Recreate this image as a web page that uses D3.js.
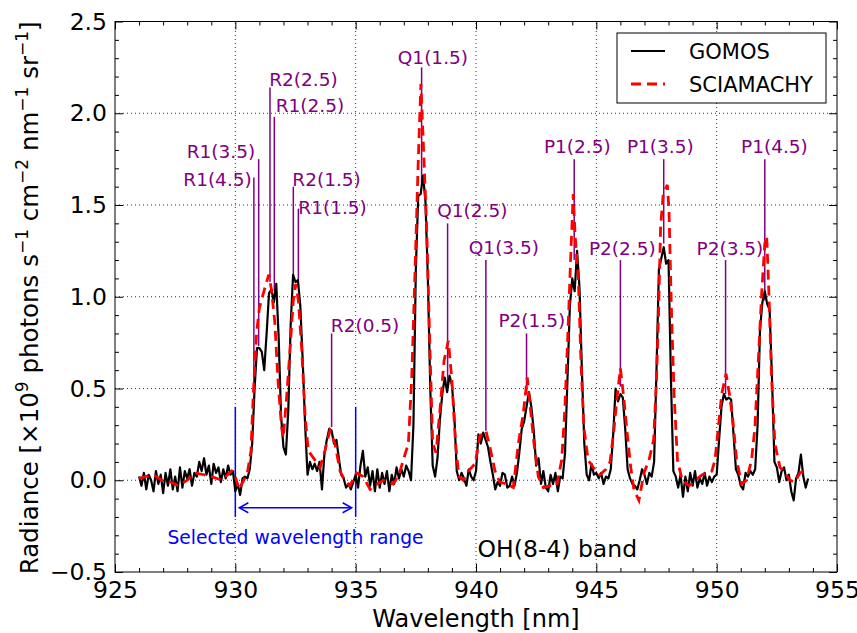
<!DOCTYPE html>
<html><head><meta charset="utf-8">
<script src="https://cdn.jsdelivr.net/npm/d3@7"></script>
<style>
body{margin:0;background:#fff}
svg{display:block}
text{font-family:"DejaVu Sans",sans-serif}
</style>
</head><body>
<svg id="c" width="857" height="633"></svg>
<script>
// ---------- DATA ----------
const xTicks = [925, 930, 935, 940, 945, 950, 955];
const yTicks = [-0.5, 0.0, 0.5, 1.0, 1.5, 2.0, 2.5];

// GOMOS spectrum, sampled every 0.1 nm from 926.0 nm to 953.8 nm
const gomosStart = 926.0, gomosStep = 0.1;
const gomosValues = [
  0.02,-0.03,0.04,-0.05,0.03,0.00,-0.06,0.05,-0.02,0.03,      // 926
  -0.07,0.04,-0.03,0.06,-0.05,0.02,-0.06,0.07,-0.04,0.05,     // 927
  0.01,0.06,-0.03,0.04,0.02,0.10,0.05,0.12,0.03,0.08,         // 928
  -0.02,0.09,0.04,0.07,-0.01,0.06,0.01,0.08,0.03,0.05,        // 929
  -0.06,-0.02,-0.08,0.01,0.02,0.01,0.06,0.20,0.50,0.72,       // 930
  0.72,0.70,0.60,0.80,1.02,1.04,0.97,1.07,0.78,0.35,          // 931
  0.18,0.14,0.38,0.85,1.12,1.08,1.09,0.95,0.65,0.30,          // 932
  0.03,0.10,0.06,0.09,0.05,0.10,-0.05,0.14,0.22,0.28,         // 933
  0.27,0.20,0.22,0.12,0.03,0.01,-0.04,-0.02,-0.05,-0.01,      // 934
  0.03,-0.04,0.08,0.16,0.02,0.07,-0.03,0.05,-0.06,0.06,       // 935
  -0.04,0.04,-0.02,0.05,-0.06,0.03,-0.02,0.07,0.01,0.06,      // 936
  0.02,0.08,0.05,0.00,0.30,1.15,1.55,1.56,1.66,1.52,          // 937
  1.10,0.50,0.08,0.02,0.12,0.33,0.47,0.56,0.48,0.57,          // 938
  0.52,0.35,0.05,0.00,0.04,0.01,-0.03,0.06,0.02,0.00,         // 939
  0.05,0.25,0.20,0.26,0.22,0.18,0.10,0.03,-0.05,-0.01,        // 940
  -0.03,0.04,0.03,-0.04,-0.03,0.02,-0.03,0.04,0.15,0.28,      // 941
  0.32,0.40,0.48,0.40,0.27,0.08,0.12,-0.02,0.05,-0.04,        // 942
  -0.06,0.03,-0.02,0.04,-0.06,0.02,0.01,0.15,0.55,0.95,       // 943
  1.10,1.03,1.25,1.05,0.60,0.20,0.03,0.00,0.09,0.03,          // 944
  0.04,0.01,0.04,-0.02,0.02,0.01,0.06,0.25,0.50,0.43,         // 945
  0.47,0.45,0.28,0.06,0.01,-0.02,-0.03,-0.05,0.00,0.06,       // 946
  0.03,-0.02,0.04,0.02,0.10,0.60,1.15,1.21,1.27,1.18,         // 947
  1.20,0.55,0.05,0.02,-0.04,0.03,-0.09,0.02,-0.06,0.04,       // 948
  -0.03,0.05,-0.04,0.01,-0.02,0.04,-0.03,0.02,-0.01,0.02,     // 949
  0.03,0.22,0.40,0.47,0.44,0.45,0.44,0.25,0.06,0.03,          // 950
  -0.03,-0.05,0.04,0.02,0.05,0.03,0.06,0.30,0.82,0.97,        // 951
  1.03,0.96,0.93,0.55,0.10,0.07,-0.01,0.05,0.07,0.00,         // 952
  0.03,-0.06,-0.11,0.01,0.04,0.14,0.02,-0.04,0.01             // 953
];

// SCIAMACHY spectrum (wavelength, radiance)
const sciaWl = [926.0,926.25,926.6,926.94,927.3,927.63,928.0,928.32,928.7,929.02,929.43,929.85,930.0,930.15,930.35,930.5,930.65,930.74,930.88,931.0,931.23,931.39,931.5,931.64,931.78,931.92,931.99,932.13,932.27,932.41,932.51,932.62,932.76,932.9,933.03,933.31,933.52,933.72,933.93,934.14,934.35,934.55,934.76,935.04,935.31,935.6,935.9,936.15,936.56,936.8,936.98,937.19,937.33,937.46,937.6,937.71,937.81,937.95,938.06,938.2,938.34,938.5,938.67,938.85,938.99,939.15,939.29,939.47,939.68,939.96,940.16,940.41,940.58,940.79,940.99,941.27,941.55,941.76,941.96,942.13,942.27,942.41,942.59,942.8,943.07,943.35,943.56,943.69,943.83,943.93,944.04,944.12,944.25,944.36,944.48,944.66,944.87,945.15,945.4,945.57,945.72,945.86,946.0,946.14,946.28,946.42,946.56,946.77,946.98,947.19,947.38,947.5,947.58,947.67,947.78,947.95,948.02,948.12,948.23,948.37,948.57,948.85,949.12,949.4,949.6,949.8,949.93,950.07,950.21,950.39,950.53,950.67,950.83,951.04,951.24,951.45,951.59,951.73,951.87,952.0,952.08,952.17,952.28,952.42,952.63,952.84,953.04,953.25,953.46,953.6];
const sciaValues = [0.01,0.02,0.03,0.00,-0.01,-0.03,0.00,0.04,0.03,0.02,0.00,0.05,0.02,-0.05,0.00,0.04,0.16,0.45,0.80,0.94,1.05,1.12,1.04,0.86,0.53,0.29,0.23,0.45,0.71,0.98,1.07,0.98,0.71,0.35,0.16,0.11,0.07,0.16,0.27,0.20,0.05,0.00,-0.03,0.04,0.02,-0.05,-0.02,0.00,-0.02,0.03,0.11,0.20,0.56,1.11,1.74,2.16,1.84,1.38,0.84,0.20,0.15,0.38,0.65,0.76,0.56,0.20,0.02,0.00,0.05,0.09,0.24,0.27,0.18,0.05,-0.01,-0.02,-0.04,0.20,0.36,0.56,0.38,0.20,0.02,-0.04,-0.03,-0.03,0.11,0.38,0.84,1.20,1.56,1.33,1.11,0.65,0.29,0.11,0.07,0.03,0.06,0.10,0.26,0.45,0.61,0.45,0.26,0.08,-0.05,-0.11,0.04,0.11,0.22,0.55,0.88,1.38,1.56,1.61,1.47,0.93,0.47,0.11,0.00,-0.03,0.00,0.03,0.04,0.05,0.11,0.29,0.47,0.58,0.47,0.33,0.11,-0.02,0.00,0.11,0.29,0.65,1.02,1.29,1.33,1.02,0.56,0.20,0.07,0.04,0.00,-0.01,0.04,0.05];

// Line identifications
const annLabels = ["R1(4.5)","R1(3.5)","R2(2.5)","R1(2.5)","R2(1.5)","R1(1.5)","R2(0.5)","Q1(1.5)","Q1(2.5)","Q1(3.5)","P2(1.5)","P1(2.5)","P2(2.5)","P1(3.5)","P2(3.5)","P1(4.5)"];
const annWl     = [930.77,930.97,931.44,931.62,932.41,932.62,934.00,937.74,938.82,940.41,942.10,944.08,946.00,947.80,950.37,952.00];
const annTop    = [1.65,1.75,2.14,1.98,1.60,1.48,0.80,2.25,1.40,1.20,0.80,1.75,1.20,1.75,1.20,1.75];
const annEnd    = [0.50,0.73,1.08,1.03,1.10,1.05,0.29,1.62,0.50,0.27,0.47,1.20,0.51,1.29,0.47,0.98];
const annTextWl = [929.26,929.40,932.83,933.10,933.79,934.04,935.39,938.21,939.85,941.16,942.32,944.21,946.08,947.66,950.55,952.40];
const annTextVal= [1.636,1.788,2.181,2.039,1.636,1.483,0.84,2.30,1.467,1.265,0.867,1.816,1.26,1.816,1.26,1.816];

const rangeWl = [930, 935];
const seriesNames = ["GOMOS", "SCIAMACHY"];

// ---------- CHART ----------
const W = 857, H = 633;
const m = {l:115, r:20, t:21.5, b:61};
const x = d3.scaleLinear().domain([925,955]).range([m.l, W-m.r]);
const y = d3.scaleLinear().domain([-0.5,2.5]).range([H-m.b, m.t]);
const svg = d3.select('#c');

const xMinor = d3.range(926, 955).filter(v => v % 5 !== 0);
const yMinor = d3.range(-4, 25).map(v => v/10).filter(v => Math.round(v*10) % 5 !== 0);

// grid
const grid = svg.append('g').attr('stroke','#000').attr('stroke-width',0.8).attr('stroke-dasharray','1,3');
grid.selectAll('.gx').data(xTicks.slice(1,-1)).join('line')
  .attr('x1',d=>x(d)).attr('x2',d=>x(d)).attr('y1',y(-0.5)).attr('y2',y(2.5));
grid.selectAll('.gy').data(yTicks.slice(1,-1)).join('line')
  .attr('y1',d=>y(d)).attr('y2',d=>y(d)).attr('x1',x(925)).attr('x2',x(955));

// annotations (purple)
const ann = svg.append('g');
annLabels.forEach((lab,i) => {
  ann.append('line').attr('x1',x(annWl[i])).attr('x2',x(annWl[i]))
    .attr('y1',y(annTop[i])).attr('y2',y(annEnd[i]))
    .attr('stroke','#800080').attr('stroke-width',1.5);
  ann.append('text').attr('x',x(annTextWl[i])).attr('y',y(annTextVal[i]))
    .attr('dy','0.32em').attr('text-anchor','middle')
    .attr('font-size',18.5).attr('fill','#800080').text(lab);
});

// selected wavelength range (blue)
const blue = svg.append('g').attr('stroke','#0000ff').attr('stroke-width',1.5).attr('fill','none');
rangeWl.forEach(w => blue.append('line').attr('x1',x(w)).attr('x2',x(w)).attr('y1',y(0.4)).attr('y2',y(-0.2)));
const ay = y(-0.15), ax1 = x(rangeWl[0]) + 4, ax2 = x(rangeWl[1]) - 4;
blue.append('line').attr('x1',ax1).attr('x2',ax2).attr('y1',ay).attr('y2',ay);
blue.append('path').attr('d',`M${ax1+9},${ay-5}L${ax1},${ay}L${ax1+9},${ay+5}`);
blue.append('path').attr('d',`M${ax2-9},${ay-5}L${ax2},${ay}L${ax2-9},${ay+5}`);
svg.append('text').attr('x',x(d3.mean(rangeWl))).attr('y',y(-0.345))
  .attr('text-anchor','middle').attr('font-size',18.7).attr('fill','#0000ff')
  .text('Selected wavelength range');

svg.append('text').attr('x',x(943.38)).attr('y',y(-0.42))
  .attr('text-anchor','middle').attr('font-size',23.5).attr('fill','#000').text('OH(8-4) band');

// curves
const line = d3.line().x(d=>x(d[0])).y(d=>y(d[1]));
const gomos = gomosValues.map((v,i) => [gomosStart + i*gomosStep, v]);
const scia = sciaWl.map((w,i) => [w, sciaValues[i]]);
svg.append('path').datum(gomos).attr('d',line).attr('fill','none')
  .attr('stroke','#000').attr('stroke-width',2.2).attr('stroke-linejoin','round');
svg.append('path').datum(scia).attr('d',line).attr('fill','none')
  .attr('stroke','#ff0000').attr('stroke-width',2.8).attr('stroke-dasharray','10,6');

// axes
function styleAxis(g){ g.select('.domain').remove(); g.selectAll('line').attr('stroke','#000'); g.selectAll('text').attr('font-size',23.5).attr('fill','#000').attr('font-family','DejaVu Sans'); }
svg.append('g').attr('transform',`translate(0,${y(-0.5)})`)
  .call(d3.axisBottom(x).tickValues(xTicks).tickSizeInner(-8).tickSizeOuter(0).tickPadding(9).tickFormat(d3.format('d'))).call(styleAxis);
svg.append('g').attr('transform',`translate(0,${y(-0.5)})`)
  .call(d3.axisBottom(x).tickValues(xMinor).tickSizeInner(-4).tickSizeOuter(0).tickFormat('')).call(styleAxis);
svg.append('g').attr('transform',`translate(0,${y(2.5)})`)
  .call(d3.axisTop(x).tickValues(xTicks).tickSizeInner(-8).tickSizeOuter(0).tickFormat('')).call(styleAxis);
svg.append('g').attr('transform',`translate(0,${y(2.5)})`)
  .call(d3.axisTop(x).tickValues(xMinor).tickSizeInner(-4).tickSizeOuter(0).tickFormat('')).call(styleAxis);
svg.append('g').attr('transform',`translate(${x(925)},0)`)
  .call(d3.axisLeft(y).tickValues(yTicks).tickSizeInner(-8).tickSizeOuter(0).tickPadding(8).tickFormat(d3.format('.1f'))).call(styleAxis);
svg.append('g').attr('transform',`translate(${x(925)},0)`)
  .call(d3.axisLeft(y).tickValues(yMinor).tickSizeInner(-4).tickSizeOuter(0).tickFormat('')).call(styleAxis);
svg.append('g').attr('transform',`translate(${x(955)},0)`)
  .call(d3.axisRight(y).tickValues(yTicks).tickSizeInner(-8).tickSizeOuter(0).tickFormat('')).call(styleAxis);
svg.append('g').attr('transform',`translate(${x(955)},0)`)
  .call(d3.axisRight(y).tickValues(yMinor).tickSizeInner(-4).tickSizeOuter(0).tickFormat('')).call(styleAxis);

svg.append('rect').attr('x',x(925)).attr('y',y(2.5)).attr('width',x(955)-x(925)).attr('height',y(-0.5)-y(2.5))
  .attr('fill','none').attr('stroke','#000').attr('stroke-width',1);

// axis labels
svg.append('text').attr('x',(x(925)+x(955))/2).attr('y',627).attr('text-anchor','middle')
  .attr('font-size',24).attr('fill','#000').text('Wavelength [nm]');
const yl = svg.append('text').attr('transform',`translate(38,${(y(2.5)+y(-0.5))/2 + 1}) rotate(-90)`)
  .attr('text-anchor','middle').attr('font-size',24.5).attr('fill','#000');
const parts = [["Radiance [\u00d710",0],["9",1],[" photons s",0],["\u22121",1],[" cm",0],["\u22122",1],[" nm",0],["\u22121",1],[" sr",0],["\u22121",1],["]",0]];
parts.forEach((p,i) => {
  const t = yl.append('tspan').text(p[0]);
  if (p[1]) t.attr('font-size',17).attr('dy',-10);
  else if (i > 0 && parts[i-1][1]) t.attr('dy',10);
});

// legend
const lg = svg.append('g');
lg.append('rect').attr('x',617).attr('y',33).attr('width',209).attr('height',70)
  .attr('fill','#fff').attr('stroke','#000').attr('stroke-width',1);
const legY = [51, 84];
seriesNames.forEach((n,i) => {
  const l = lg.append('line').attr('x1',631).attr('x2',665).attr('y1',legY[i]).attr('y2',legY[i])
    .attr('stroke', i ? '#ff0000' : '#000').attr('stroke-width', i ? 2.8 : 2.2);
  if (i) l.attr('stroke-dasharray','10,6');
  lg.append('text').attr('x',689).attr('y',legY[i]).attr('dy','0.36em')
    .attr('font-size',21).attr('fill','#000').text(n);
});
</script>
</body></html>
